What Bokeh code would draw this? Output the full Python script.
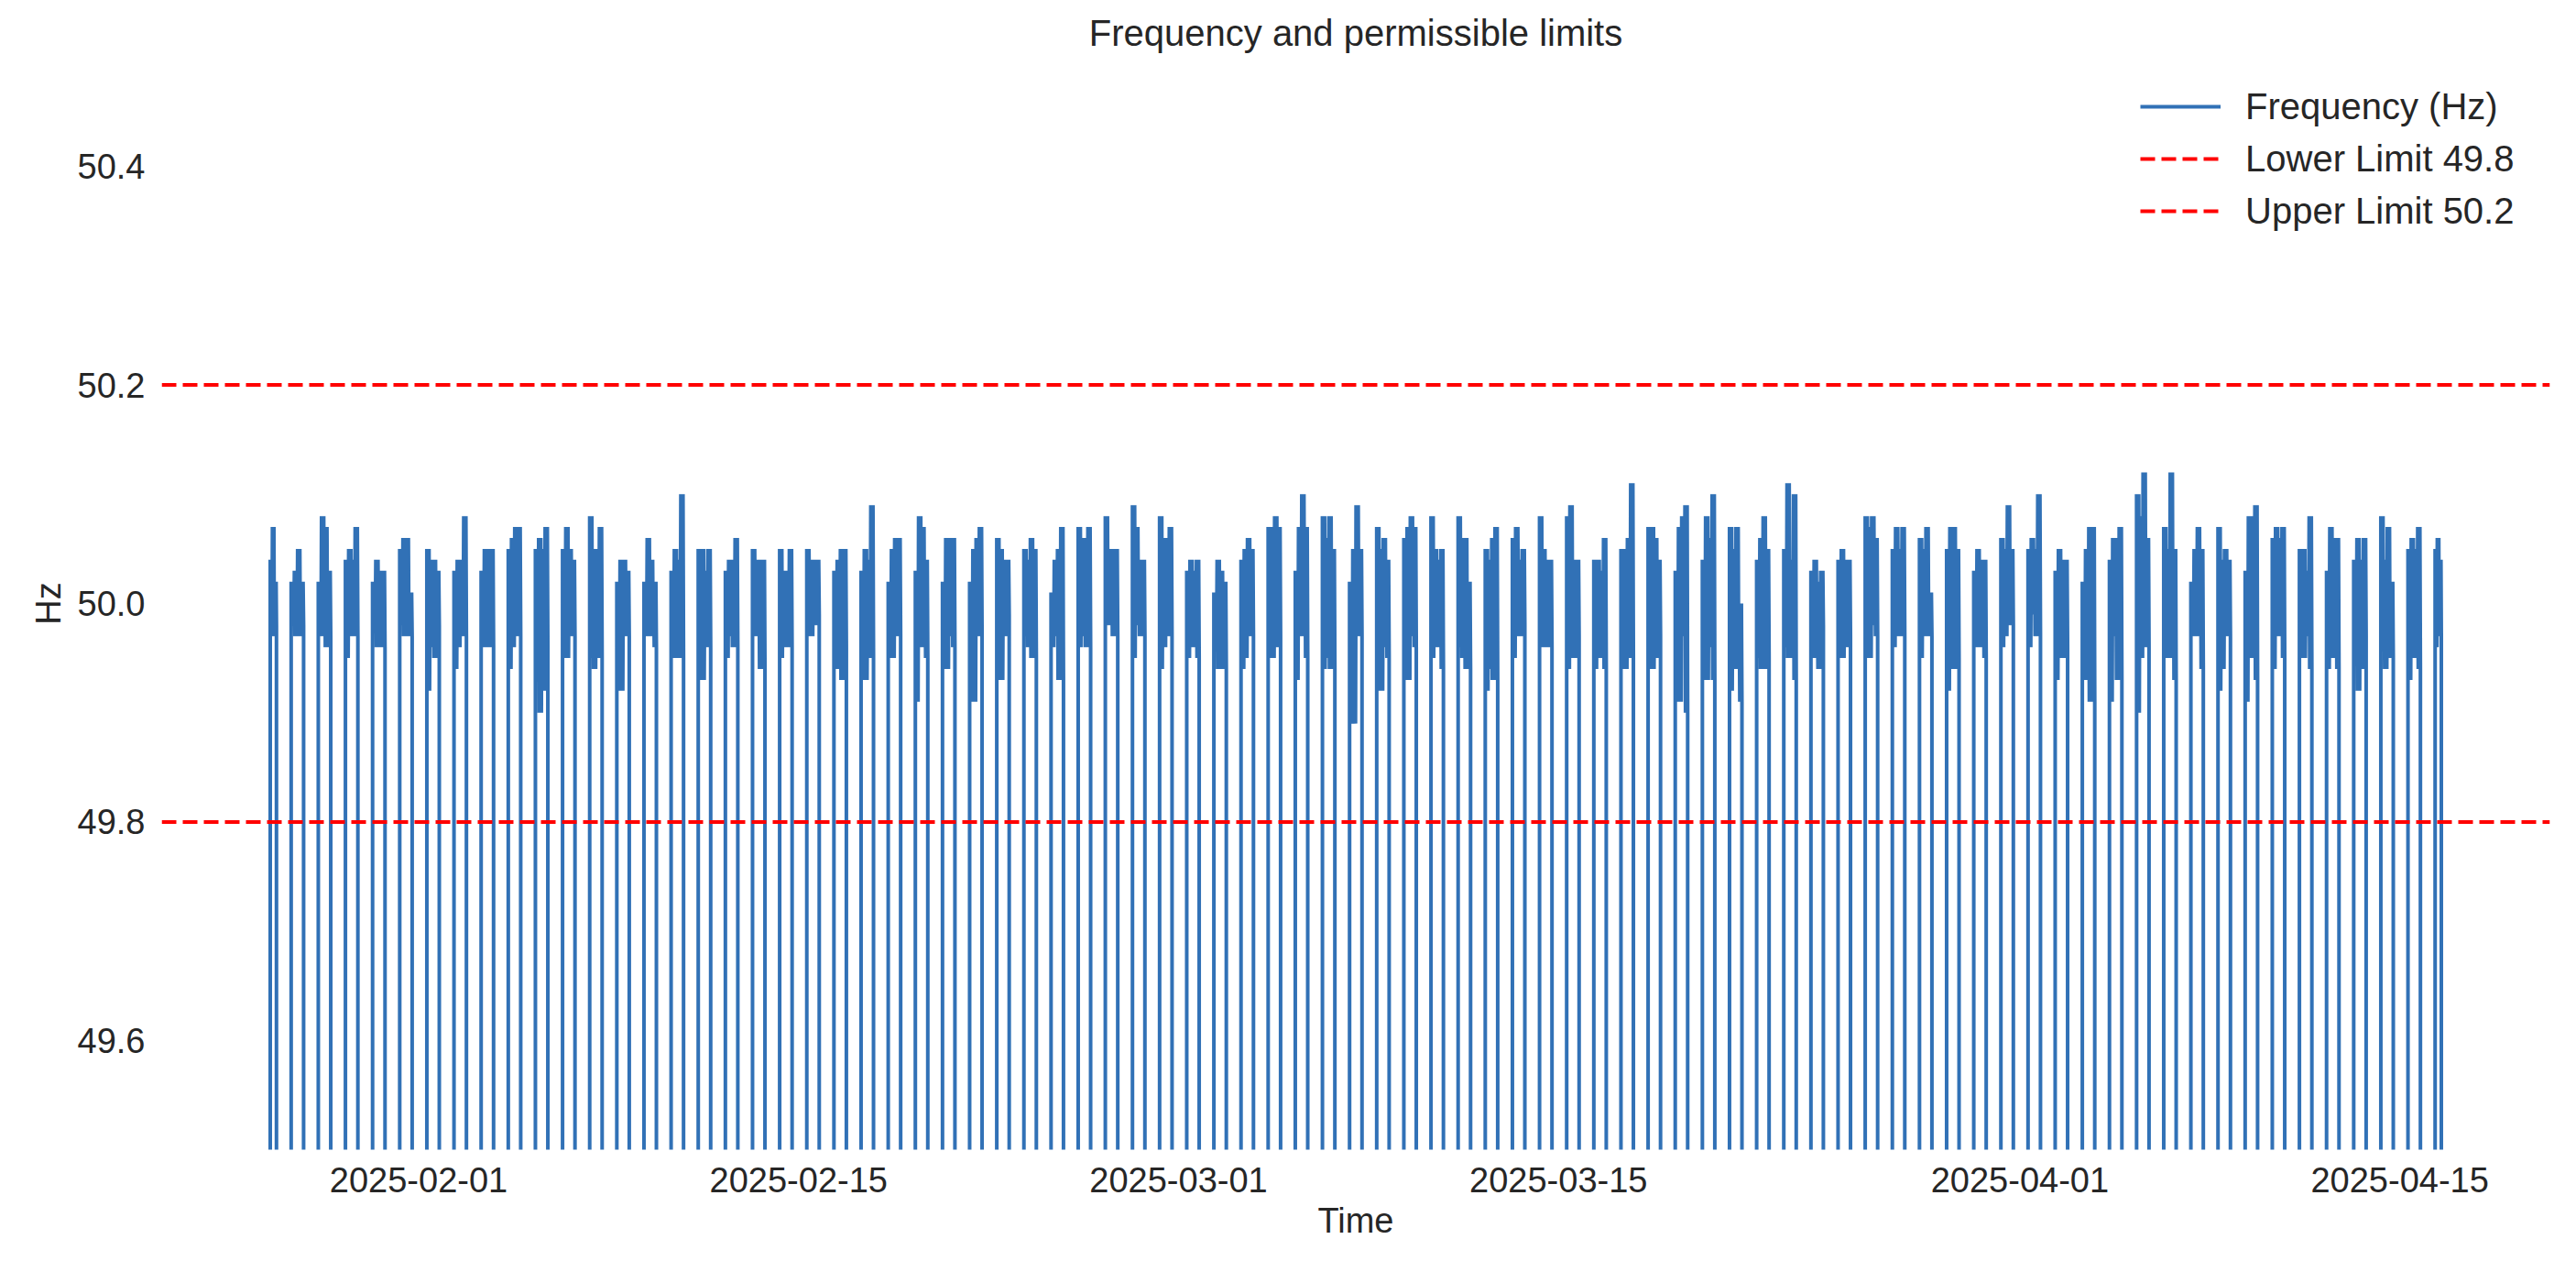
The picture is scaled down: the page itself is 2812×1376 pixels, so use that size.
import numpy as np
from bokeh.plotting import figure
from bokeh.models import (Range1d, FixedTicker, DatetimeTickFormatter, Legend, LegendItem,
                          NumeralTickFormatter)
from bokeh.embed import file_html
from bokeh.resources import INLINE

# ---------------- texts ----------------
TITLE = "Frequency and permissible limits"
X_LABEL = "Time"
Y_LABEL = "Hz"
SERIES_LABEL = "Frequency (Hz)"
LOWER_LABEL = "Lower Limit 49.8"
UPPER_LABEL = "Upper Limit 50.2"

# ---------------- limits / axes ----------------
LOWER_LIMIT = 49.8
UPPER_LIMIT = 50.2
Y_MIN, Y_MAX = 49.5, 50.5
Y_TICKS = [49.6, 49.8, 50.0, 50.2, 50.4]
X_TICKS = ["2025-02-01", "2025-02-15", "2025-03-01", "2025-03-15", "2025-04-01", "2025-04-15"]

# ---------------- recording sessions ----------------
FIRST_DAY = "2025-01-26"      # day of the first session
ON_HOUR = 7.25                # session start (hours after midnight)
OFF_HOUR = 18.25              # session end
FIRST_ON_HOUR = 12.75         # first session starts late
LAST_OFF_HOUR = 12.75         # last session ends early
OFF_VALUE = 0.0               # value logged while the meter is off
REPEAT = 3                    # oscillations per read segment

# per-session upper envelope of the frequency, left to right (Hz)
BLOCK_HIGH = [
    [50.04, 50.07, 50.02],
    [50.02, 50.03, 50.05, 50.02],
    [50.02, 50.08, 50.07, 50.03],
    [50.04, 50.05, 50.04, 50.07],
    [50.02, 50.04, 50.03, 50.03],
    [50.05, 50.06, 50.06, 50.01],
    [50.05, 50.04, 50.04, 50.03],
    [50.03, 50.04, 50.04, 50.08],
    [50.03, 50.05, 50.05, 50.05],
    [50.05, 50.06, 50.07, 50.07],
    [50.05, 50.06, 50.05, 50.07],
    [50.05, 50.07, 50.05, 50.04],
    [50.08, 50.05, 50.05, 50.07],
    [50.02, 50.04, 50.04, 50.03],
    [50.02, 50.06, 50.04, 50.02],
    [50.03, 50.05, 50.04, 50.10],
    [50.05, 50.05, 50.03, 50.05],
    [50.03, 50.04, 50.04, 50.06],
    [50.05, 50.04, 50.04, 50.04],
    [50.05, 50.03, 50.03, 50.05],
    [50.05, 50.04, 50.04, 50.04],
    [50.03, 50.04, 50.05, 50.05],
    [50.03, 50.05, 50.04, 50.09],
    [50.02, 50.05, 50.06, 50.06],
    [50.03, 50.08, 50.07, 50.04],
    [50.02, 50.06, 50.06, 50.06],
    [50.02, 50.05, 50.06, 50.07],
    [50.06, 50.05, 50.04, 50.04],
    [50.05, 50.04, 50.06, 50.05],
    [50.01, 50.04, 50.05, 50.07],
    [50.07, 50.06, 50.06, 50.07],
    [50.08, 50.05, 50.05, 50.05],
    [50.09, 50.07, 50.04, 50.04],
    [50.08, 50.06, 50.06, 50.07],
    [50.03, 50.04, 50.03, 50.04],
    [50.01, 50.04, 50.03, 50.02],
    [50.04, 50.05, 50.06, 50.05],
    [50.07, 50.07, 50.08, 50.07],
    [50.03, 50.07, 50.10, 50.07],
    [50.08, 50.06, 50.08, 50.05],
    [50.02, 50.05, 50.09, 50.05],
    [50.07, 50.05, 50.06, 50.04],
    [50.06, 50.07, 50.08, 50.07],
    [50.08, 50.05, 50.04, 50.05],
    [50.08, 50.06, 50.06, 50.02],
    [50.05, 50.04, 50.06, 50.07],
    [50.06, 50.07, 50.04, 50.05],
    [50.08, 50.05, 50.04, 50.04],
    [50.08, 50.09, 50.04, 50.04],
    [50.04, 50.04, 50.03, 50.06],
    [50.05, 50.05, 50.06, 50.11],
    [50.07, 50.07, 50.06, 50.04],
    [50.03, 50.07, 50.08, 50.09],
    [50.04, 50.08, 50.06, 50.10],
    [50.07, 50.05, 50.07, 50.00],
    [50.04, 50.06, 50.08, 50.05],
    [50.05, 50.11, 50.04, 50.10],
    [50.03, 50.04, 50.02, 50.03],
    [50.04, 50.05, 50.04, 50.04],
    [50.08, 50.07, 50.08, 50.06],
    [50.05, 50.07, 50.05, 50.07],
    [50.06, 50.05, 50.07, 50.01],
    [50.05, 50.07, 50.07, 50.05],
    [50.03, 50.05, 50.04, 50.04],
    [50.06, 50.05, 50.09, 50.05],
    [50.05, 50.06, 50.05, 50.10],
    [50.03, 50.05, 50.04, 50.04],
    [50.02, 50.05, 50.07, 50.07],
    [50.04, 50.06, 50.06, 50.07],
    [50.10, 50.08, 50.12, 50.06],
    [50.07, 50.05, 50.12, 50.05],
    [50.02, 50.05, 50.07, 50.05],
    [50.07, 50.04, 50.05, 50.04],
    [50.03, 50.08, 50.08, 50.09],
    [50.06, 50.07, 50.06, 50.07],
    [50.05, 50.05, 50.03, 50.08],
    [50.03, 50.07, 50.06, 50.06],
    [50.04, 50.06, 50.04, 50.06],
    [50.08, 50.04, 50.07, 50.02],
    [50.05, 50.06, 50.05, 50.07],
    [50.05, 50.06, 50.04],
]

# per-session lower envelope of the frequency, left to right (Hz)
BLOCK_LOW = [
    [49.97, 49.97, 49.98],
    [49.98, 49.97, 49.97, 49.98],
    [49.97, 49.97, 49.96, 49.97],
    [49.95, 49.97, 49.97, 49.97],
    [49.98, 49.96, 49.96, 49.96],
    [49.98, 49.97, 49.97, 49.97],
    [49.92, 49.96, 49.95, 49.98],
    [49.94, 49.96, 49.97, 49.97],
    [49.96, 49.96, 49.96, 49.96],
    [49.94, 49.96, 49.97, 49.97],
    [49.93, 49.90, 49.92, 49.96],
    [49.95, 49.95, 49.97, 49.97],
    [49.95, 49.94, 49.95, 49.95],
    [49.92, 49.92, 49.97, 49.97],
    [49.97, 49.97, 49.97, 49.96],
    [49.95, 49.95, 49.95, 49.95],
    [49.93, 49.93, 49.96, 49.96],
    [49.95, 49.97, 49.96, 49.96],
    [49.97, 49.97, 49.94, 49.94],
    [49.95, 49.96, 49.96, 49.96],
    [49.97, 49.97, 49.98, 49.99],
    [49.94, 49.94, 49.93, 49.96],
    [49.93, 49.93, 49.95, 49.95],
    [49.95, 49.95, 49.97, 49.97],
    [49.91, 49.96, 49.96, 49.95],
    [49.94, 49.94, 49.97, 49.96],
    [49.91, 49.91, 49.97, 49.97],
    [49.93, 49.93, 49.97, 49.99],
    [49.97, 49.96, 49.95, 49.95],
    [49.96, 49.97, 49.93, 49.93],
    [49.96, 49.97, 49.96, 49.96],
    [49.98, 49.98, 49.97, 49.97],
    [49.95, 49.98, 49.97, 49.97],
    [49.94, 49.96, 49.97, 49.97],
    [49.95, 49.96, 49.96, 49.95],
    [49.96, 49.94, 49.94, 49.94],
    [49.94, 49.95, 49.97, 49.97],
    [49.95, 49.95, 49.96, 49.97],
    [49.93, 49.97, 49.97, 49.95],
    [49.94, 49.95, 49.94, 49.94],
    [49.89, 49.89, 49.97, 49.97],
    [49.92, 49.92, 49.96, 49.95],
    [49.93, 49.93, 49.97, 49.96],
    [49.95, 49.96, 49.96, 49.94],
    [49.96, 49.95, 49.94, 49.94],
    [49.92, 49.94, 49.93, 49.93],
    [49.95, 49.97, 49.97, 49.98],
    [49.96, 49.96, 49.96, 49.96],
    [49.94, 49.95, 49.95, 49.97],
    [49.94, 49.95, 49.95, 49.94],
    [49.94, 49.94, 49.95, 49.95],
    [49.94, 49.94, 49.95, 49.97],
    [49.91, 49.91, 49.97, 49.90],
    [49.93, 49.93, 49.96, 49.93],
    [49.92, 49.94, 49.94, 49.91],
    [49.95, 49.94, 49.94, 49.95],
    [49.96, 49.95, 49.95, 49.93],
    [49.95, 49.95, 49.94, 49.98],
    [49.95, 49.95, 49.96, 49.97],
    [49.95, 49.95, 49.98, 49.97],
    [49.96, 49.97, 49.97, 49.97],
    [49.95, 49.97, 49.97, 49.97],
    [49.92, 49.94, 49.94, 49.95],
    [49.96, 49.96, 49.96, 49.95],
    [49.96, 49.97, 49.98, 49.98],
    [49.96, 49.99, 49.97, 49.97],
    [49.93, 49.95, 49.95, 49.96],
    [49.93, 49.93, 49.91, 49.91],
    [49.91, 49.97, 49.93, 49.93],
    [49.90, 49.95, 49.96, 49.96],
    [49.95, 49.95, 49.95, 49.93],
    [49.97, 49.97, 49.97, 49.94],
    [49.92, 49.94, 49.97, 49.97],
    [49.91, 49.95, 49.95, 49.93],
    [49.94, 49.97, 49.97, 49.95],
    [49.95, 49.95, 49.97, 49.94],
    [49.94, 49.95, 49.95, 49.94],
    [49.96, 49.92, 49.94, 49.97],
    [49.97, 49.94, 49.95, 49.95],
    [49.93, 49.95, 49.95, 49.94],
    [49.96, 49.97, 49.97],
]

# ---------------- build the series ----------------
HOUR_MS = 3600000.0
DAY_MS = 24 * HOUR_MS
day0 = float(np.datetime64(FIRST_DAY, "ms").astype("int64"))
n_blocks = len(BLOCK_HIGH)
xs, ys = [], []
for i, (hi, lo) in enumerate(zip(BLOCK_HIGH, BLOCK_LOW)):
    base = day0 + i * DAY_MS
    on = base + (FIRST_ON_HOUR if i == 0 else ON_HOUR) * HOUR_MS
    off = base + (LAST_OFF_HOUR if i == n_blocks - 1 else OFF_HOUR) * HOUR_MS
    vals = []
    for h, l in zip(hi, lo):
        vals += [h, l] * REPEAT
    t = np.linspace(on, off, len(vals))
    xs += [on] + list(t) + [off]
    ys += [OFF_VALUE] + vals + [OFF_VALUE]

t_min, t_max = min(xs), max(xs)
pad = 0.05 * (t_max - t_min)
x0, x1 = t_min - pad, t_max + pad

TEXT = "#262626"
FONT = "Liberation Sans"
BLUE = "#3171b6"
RED = "#ff0000"

p = figure(width=2796, height=1368, x_axis_type="datetime",
           output_backend="svg", toolbar_location=None,
           x_range=Range1d(x0, x1), y_range=Range1d(Y_MIN, Y_MAX),
           min_border_left=176, min_border_right=13,
           min_border_top=62, min_border_bottom=114,
           title=TITLE)
p.outline_line_color = None
p.background_fill_color = "white"
p.border_fill_color = "white"
p.xgrid.visible = False
p.ygrid.visible = False

p.title.align = "center"
p.title.text_font = FONT
p.title.text_font_size = "40px"
p.title.text_font_style = "normal"
p.title.text_color = TEXT
p.title.standoff = 10

r_freq = p.line(xs, ys, line_color=BLUE, line_width=4, line_join="bevel")
r_low = p.line([x0, x1], [LOWER_LIMIT, LOWER_LIMIT], line_color=RED, line_width=4,
               line_dash="16 7")
r_up = p.line([x0, x1], [UPPER_LIMIT, UPPER_LIMIT], line_color=RED, line_width=4,
              line_dash="16 7")

x_tick_ms = [float(np.datetime64(d, "ms").astype("int64")) for d in X_TICKS]
fmt = "%Y-%m-%d"
p.xaxis.ticker = FixedTicker(ticks=x_tick_ms)
p.xaxis.formatter = DatetimeTickFormatter(
    milliseconds=fmt, seconds=fmt, minsec=fmt, minutes=fmt, hourmin=fmt,
    hours=fmt, days=fmt, months=fmt, years=fmt)
p.yaxis.ticker = FixedTicker(ticks=Y_TICKS)
p.yaxis.formatter = NumeralTickFormatter(format="0.0")

for ax in (p.xaxis[0], p.yaxis[0]):
    ax.axis_line_color = None
    ax.major_tick_line_color = None
    ax.minor_tick_line_color = None
    ax.major_tick_out = 0
    ax.major_tick_in = 0
    ax.minor_tick_out = 0
    ax.major_label_text_font = FONT
    ax.major_label_text_font_size = "38px"
    ax.major_label_text_color = TEXT
    ax.axis_label_text_font = FONT
    ax.axis_label_text_font_size = "38px"
    ax.axis_label_text_font_style = "normal"
    ax.axis_label_text_color = TEXT

p.xaxis.axis_label = X_LABEL
p.yaxis.axis_label = Y_LABEL
p.xaxis.major_label_standoff = 19
p.yaxis.major_label_standoff = 18
p.xaxis.axis_label_standoff = 7
p.yaxis.axis_label_standoff = 8

legend = Legend(items=[
    LegendItem(label=SERIES_LABEL, renderers=[r_freq]),
    LegendItem(label=LOWER_LABEL, renderers=[r_low]),
    LegendItem(label=UPPER_LABEL, renderers=[r_up]),
], location="top_right")
legend.label_text_font = FONT
legend.label_text_font_size = "40px"
legend.label_text_color = TEXT
legend.glyph_width = 88
legend.glyph_height = 54
legend.label_height = 54
legend.label_width = 305
legend.label_standoff = 27
legend.spacing = 3
legend.padding = 17
legend.margin = 10
legend.border_line_alpha = 0
legend.background_fill_alpha = 0
p.add_layout(legend)

open("out.html", "w").write(file_html(p, INLINE))
